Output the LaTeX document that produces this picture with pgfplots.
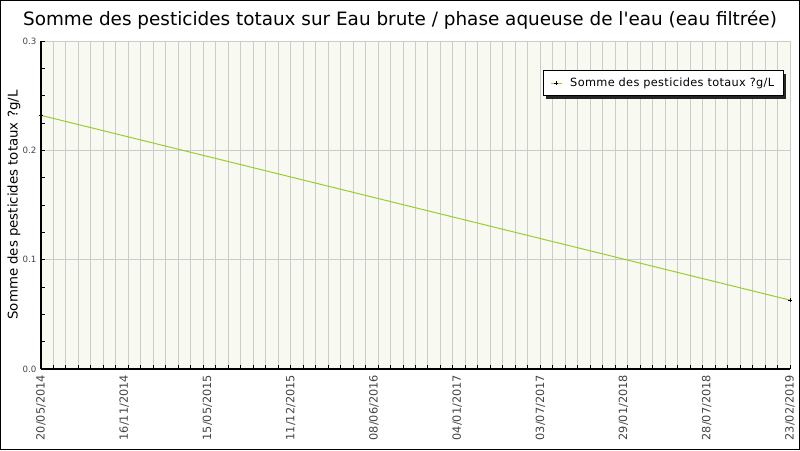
\documentclass[border=0pt]{standalone}
\usepackage{fontspec}
\setmainfont{DejaVu Sans}
\newfontfamily\spaced[LetterSpace=3]{DejaVu Sans}
\usepackage{pgfplots}
\pgfplotsset{compat=1.18}
\definecolor{linegreen}{RGB}{154,205,50}
\definecolor{plotbg}{RGB}{248,249,240}
\definecolor{gridgray}{RGB}{204,204,204}
\definecolor{ticktext}{RGB}{68,68,68}

\begin{document}
\begin{tikzpicture}[x=0.75pt,y=0.75pt]
\begin{pgfinterruptboundingbox}
\begin{axis}[
    scale only axis, width=561.75pt, height=246pt,
    xmin=0, xmax=60, ymin=0, ymax=0.3,
    axis x line*=bottom, axis y line*=left,
    axis line style={black, line width=1pt},
    axis background/.style={fill=plotbg},
    xtick={0,...,60}, xticklabels={},
    xmajorgrids, ymajorgrids,
    grid style={gridgray, line width=0.75pt},
    extra x ticks={0,6.6667,13.3333,20,26.6667,33.3333,40,46.6667,53.3333,60},
    extra x tick labels={20/05/2014,16/11/2014,15/05/2015,11/12/2015,08/06/2016,04/01/2017,03/07/2017,29/01/2018,28/07/2018,23/02/2019},
    extra x tick style={major tick length=0pt, grid=none,
        xticklabel style={rotate=90, anchor=east, font=\fontsize{8.5}{9}\selectfont, text=ticktext, xshift=-1pt}},
    ytick={0,0.1,0.2,0.3}, minor y tick num=3,
    yticklabel style={font=\fontsize{6.5}{7}\selectfont, text=ticktext,
        /pgf/number format/.cd, fixed, precision=1, zerofill, assume math mode=true},
    tick align=inside, major tick length=3pt, minor tick length=3pt,
    tick style={black, line width=0.75pt},
    every axis title shift=0pt,
    title={Somme des pesticides totaux sur Eau brute / phase aqueuse de l\textquotesingle eau (eau filtrée)},
    title style={at={(axis description cs:0.4793,1.064)}, anchor=center, font=\fontsize{13.8}{16}\selectfont},
    ylabel={Somme des pesticides totaux ?g/L},
    ylabel style={at={(axis description cs:-0.036,0.5)}, anchor=center, font=\fontsize{10}{12}\selectfont},
    legend style={at={(axis description cs:0.992,0.9116)}, anchor=north east,
        draw=black, fill=white, line width=0.75pt,
        font=\spaced\fontsize{8.5}{10}\selectfont, inner xsep=5pt, inner ysep=3.5pt},
    legend cell align=left,
    legend image code/.code={
        \draw[mark repeat=2, mark phase=2] plot coordinates {(0pt,0pt) (4pt,0pt) (8pt,0pt)};
    },
    clip=false,
]
\coordinate (O) at (rel axis cs:0,0);
% legend shadow, drawn before the legend so the legend covers it
\fill[black!85] (axis description cs:0.674,0.8232) rectangle (axis description cs:0.9947,0.8994);
\addplot[linegreen, line width=0.75pt, mark=+, mark size=1.5pt, mark options={black, line width=0.6pt}]
    coordinates {(0,0.232) (60,0.063)};
\addlegendentry{\hspace{4pt}Somme des pesticides totaux ?g/L}
\end{axis}
\end{pgfinterruptboundingbox}
\begin{scope}[shift={(O)}]
\useasboundingbox (-41,-81) rectangle (759,369);
\draw[black, line width=0.75pt] (-40.5,-80.5) rectangle (758.5,368.5);
\end{scope}
\end{tikzpicture}
\end{document}
